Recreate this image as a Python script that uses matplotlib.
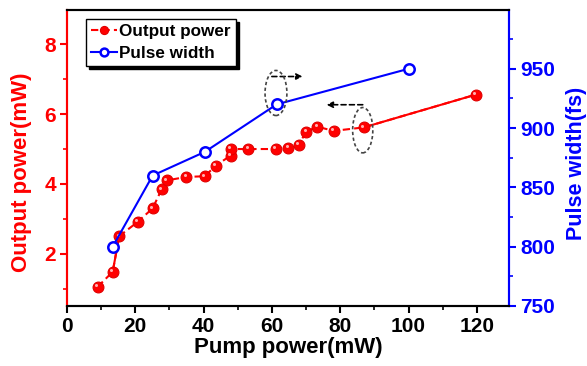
import matplotlib.pyplot as plt
from matplotlib.patches import Ellipse
from matplotlib.transforms import offset_copy

plt.rcParams["font.family"] = ["Liberation Sans", "DejaVu Sans"]
plt.rcParams["font.weight"] = "bold"

# output power vs pump power
pump_out = [9.0, 13.4, 15.3, 20.7, 25.1, 27.7, 29.2, 35.0, 40.4, 43.5,
            47.9, 47.9, 53.1, 61.2, 64.8, 67.8, 70.1, 73.3, 78.1, 86.9, 119.7]
output_mw = [1.05, 1.48, 2.5, 2.91, 3.3, 3.84, 4.1, 4.2, 4.22, 4.52,
             4.81, 5.0, 5.0, 5.0, 5.04, 5.12, 5.5, 5.64, 5.52, 5.62, 6.56]

# pulse width vs pump power
pump_pw = [13.4, 25.1, 40.4, 61.4, 100.0]
pulse_fs = [800, 860, 880, 920, 950]

RED = "#ff0000"
BLUE = "#0000ff"

fig = plt.figure(figsize=(5.87, 3.66), dpi=100)
ax = fig.add_axes([0.114, 0.164, 0.753, 0.810])
ax2 = ax.twinx()

# red curve: dashed, with solid pieces for the long segments
ax.plot(pump_out, output_mw, color=RED, lw=1.5, ls=(0, (3.5, 2)),
        marker="o", ms=7.8, mfc=RED, mec="#e00000", mew=0.8,
        label="Output power", zorder=3)
ax.plot(pump_out[1:3], output_mw[1:3], color=RED, lw=1.5, zorder=2)
ax.plot(pump_out[-2:], output_mw[-2:], color=RED, lw=1.5, zorder=2)
# small glint on each ball, nudged up and left
glint = offset_copy(ax.transData, fig=fig, x=-1.2, y=1.2, units="points")
ax.plot(pump_out, output_mw, ls="none", marker="o", ms=2.2,
        mfc="#ffb0b0", mec="none", zorder=4, transform=glint)

ax2.plot(pump_pw, pulse_fs, color=BLUE, lw=1.5, marker="o", ms=7.5,
         mfc="white", mec=BLUE, mew=1.8, label="Pulse width", zorder=3)

ax.set_xlim(0, 129.4)
ax.set_ylim(0.5, 9.0)
ax2.set_ylim(750, 1000)

ax.set_xticks(range(0, 121, 20))
ax.set_xticks(range(10, 130, 20), minor=True)
ax.set_yticks([2, 4, 6, 8])
ax.set_yticks([1, 3, 5, 7], minor=True)
ax2.set_yticks([750, 800, 850, 900, 950])
ax2.set_yticks([775, 825, 875, 925, 975], minor=True)

ax.tick_params(axis="x", which="major", length=5, width=1.5, labelsize=15,
               colors="black", pad=3)
ax.tick_params(axis="x", which="minor", length=3, width=1.2)
ax.tick_params(axis="y", which="major", length=5, width=1.5, labelsize=15,
               colors=RED, pad=3)
ax.tick_params(axis="y", which="minor", length=3, width=1.2, colors=RED)
ax2.tick_params(axis="y", which="major", length=5, width=1.5, labelsize=15,
                colors=BLUE, pad=3)
ax2.tick_params(axis="y", which="minor", length=3, width=1.2, colors=BLUE)

for a in (ax, ax2):
    for side in a.spines.values():
        side.set_linewidth(1.5)
ax.spines["left"].set_color(RED)
ax2.spines["left"].set_color(RED)
ax2.spines["right"].set_color(BLUE)
ax.spines["right"].set_color(BLUE)

ax.set_xlabel("Pump power(mW)", fontsize=16, fontweight="bold", labelpad=1)
ax.set_ylabel("Output power(mW)", fontsize=16, fontweight="bold", color=RED)
ax.yaxis.set_label_coords(-0.079, 0.45)
ax2.set_ylabel("Pulse width(fs)", fontsize=15.5, fontweight="bold",
               color=BLUE)
ax2.yaxis.set_label_coords(1.129, 0.48)

# dashed ellipses and arrows pointing to each curve's axis
ax2.add_patch(Ellipse((61.2, 929.6), 6.4, 38, fill=False, ls=(0, (2, 1.5)),
                      ec="#444444", lw=1.2, zorder=5))
ax2.annotate("", xy=(69.0, 943.5), xytext=(60.0, 943.5),
             arrowprops=dict(arrowstyle="-|>", ls=(0, (3, 2)), color="black",
                             lw=1.2, mutation_scale=9, shrinkA=0, shrinkB=0))
ax.add_patch(Ellipse((86.6, 5.54), 5.9, 1.3, fill=False, ls=(0, (2, 1.5)),
                     ec="#444444", lw=1.2, zorder=5))
ax.annotate("", xy=(76.0, 6.27), xytext=(86.6, 6.27),
            arrowprops=dict(arrowstyle="-|>", ls=(0, (3, 2)), color="black",
                            lw=1.2, mutation_scale=9, shrinkA=0, shrinkB=0))

h1, l1 = ax.get_legend_handles_labels()
h2, l2 = ax2.get_legend_handles_labels()
leg = ax2.legend(h1 + h2, l1 + l2, loc="upper left",
                 bbox_to_anchor=(0.043, 0.968), fontsize=12.3, frameon=True,
                 fancybox=False, edgecolor="black", handlelength=1.5,
                 handletextpad=0.15, borderpad=0.3, labelspacing=0.4,
                 borderaxespad=0.0, markerscale=0.75,
                 shadow={"color": "black", "alpha": 1.0})
leg.get_frame().set_linewidth(1.0)
for txt in leg.get_texts():
    txt.set_fontweight("bold")

fig.savefig("out.png", dpi=100)
